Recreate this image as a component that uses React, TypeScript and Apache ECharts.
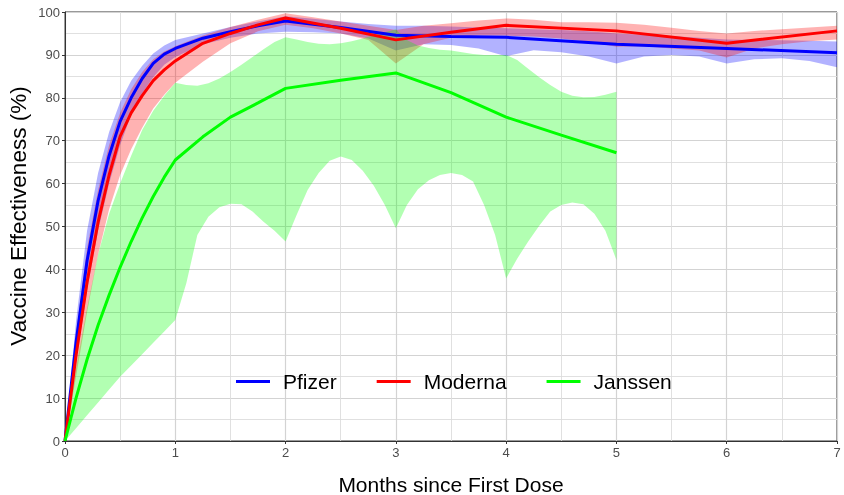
import React, { useEffect, useRef } from 'react';
import * as echarts from 'echarts';

// ---- Data (months since first dose, effectiveness %) ----
const LINE_X = [0, 0.1, 0.2, 0.3, 0.4, 0.5, 0.6, 0.7, 0.8, 0.9, 1, 1.25, 1.5, 1.75, 2, 2.5, 3, 3.5, 4, 5, 6, 7];
const PFIZER = [0, 23, 42, 56, 66.5, 74.5, 80, 84.5, 88, 90.2, 91.5, 93.9, 95.4, 96.8, 97.9, 96.4, 94.6, 94.3, 94.1, 92.5, 91.5, 90.5];
const MODERNA = [0, 20, 37, 51, 62, 71, 76.5, 80.5, 84, 86.5, 88.6, 92.7, 95, 97, 98.6, 96.2, 93.5, 95.3, 96.9, 95.6, 92.7, 95.6];

const JANSSEN_X = [0, 0.1, 0.2, 0.3, 0.4, 0.5, 0.6, 0.7, 0.8, 0.9, 1, 1.25, 1.5, 1.75, 2, 2.5, 3, 3.5, 4, 4.5, 5];
const JANSSEN = [0, 10, 19, 27, 34, 40.5, 46.5, 52, 57, 61.5, 65.5, 70.9, 75.5, 78.8, 82.2, 84.1, 85.8, 81.2, 75.5, 71.3, 67.2];

const BAND_X = [0, 0.1, 0.2, 0.3, 0.4, 0.5, 0.6, 0.7, 0.8, 0.9, 1, 1.25, 1.5, 1.75, 2, 2.25, 2.5, 2.75, 3, 3.25, 3.5, 3.75, 4, 4.25, 4.5, 4.75, 5, 5.25, 5.5, 5.75, 6, 6.25, 6.5, 6.75, 7];
const PFIZER_HI = [0, 28, 49, 62.5, 72, 79, 84, 87.5, 90.3, 92.2, 93.5, 95, 96.5, 97.8, 99, 98.4, 97.8, 97.2, 96.8, 96.8, 96.6, 96.4, 96.2, 96, 95.8, 95.5, 95, 94.7, 94.4, 94, 93.6, 93.5, 93.4, 93.3, 93.1];
const PFIZER_LO = [0, 18, 35, 49, 60, 69, 76, 81, 84.8, 87.7, 89.5, 92.5, 94, 95, 95.4, 95.3, 95, 93.8, 91, 92.5, 92.3, 91.5, 89.7, 91.1, 90.6, 89.6, 88, 89.6, 90, 89.6, 88, 89, 89.2, 88.6, 87.1];
const MODERNA_HI = [0, 25, 45, 58.5, 69, 76.5, 82, 86, 89, 90.8, 92, 94.5, 96.5, 98.2, 99.7, 98.8, 97.8, 96.8, 95.8, 96.8, 97.4, 98, 98.5, 98.2, 97.6, 97.6, 97.5, 97, 96.3, 95.6, 95, 95.6, 96, 96.4, 96.8];
const MODERNA_LO = [0, 15, 30, 43.5, 54, 62, 68, 73, 77.5, 80.7, 83.5, 88.4, 92.7, 95.5, 97, 96.2, 95, 93.5, 88, 92.5, 94, 94.5, 94.5, 94.3, 93.8, 93, 91.9, 92, 91.5, 91, 89.4, 91.5, 92.5, 93.2, 93.6];

const JANSSEN_BAND_X = [0, 0.1, 0.2, 0.3, 0.4, 0.5, 0.6, 0.7, 0.8, 0.9, 1, 1.1, 1.2, 1.3, 1.4, 1.5, 1.6, 1.7, 1.8, 1.9, 2, 2.1, 2.2, 2.3, 2.4, 2.5, 2.6, 2.7, 2.8, 2.9, 3, 3.1, 3.2, 3.3, 3.4, 3.5, 3.6, 3.7, 3.8, 3.9, 4, 4.1, 4.2, 4.3, 4.4, 4.5, 4.6, 4.7, 4.8, 4.9, 5];
const JANSSEN_HI = [0, 17, 31, 43.5, 53, 60, 66.5, 72.5, 77, 80.5, 83.5, 83, 82.8, 83.4, 84.5, 86, 87.7, 89.5, 91.3, 93, 94.1, 93.6, 93, 92.6, 92.5, 92.7, 93.2, 93.8, 94.6, 95.3, 96, 93.5, 92.2, 91.6, 91.2, 91, 90.6, 90.2, 90, 90, 90, 88.8, 86.8, 84.8, 83, 81.4, 80.5, 80.1, 80.2, 80.7, 81.4];
const JANSSEN_LO = [0, 3, 6, 9, 12, 15, 17.6, 20.2, 22.9, 25.5, 28.2, 36.8, 48, 52.3, 54.5, 55.3, 55.2, 53.5, 51.1, 49, 46.5, 52.7, 58.5, 62.5, 65.3, 66.3, 65.5, 63, 59.5, 55, 49.6, 55, 58.7, 60.8, 62, 62.5, 62, 60.5, 55, 48, 37.9, 42.5, 46.5, 50.2, 53.5, 55, 55.6, 55.2, 53, 49, 42.2];

const X_TICKS = [0, 1, 2, 3, 4, 5, 6, 7];
const Y_TICKS = [0, 10, 20, 30, 40, 50, 60, 70, 80, 90, 100];

const FONT = '"Liberation Sans", Arial, Helvetica, sans-serif';

function pairs(xs: number[], ys: number[]) {
  return xs.map((x, i) => [x, ys[i]]);
}

function band(name: string, xs: number[], lo: number[], hi: number[], fill: string) {
  return {
    type: 'custom',
    name,
    silent: true,
    z: 1,
    clip: true,
    data: [[xs[0], lo[0]]],
    renderItem: (_params: any, api: any) => {
      const pts: number[][] = [];
      for (let i = 0; i < xs.length; i++) pts.push(api.coord([xs[i], hi[i]]));
      for (let i = xs.length - 1; i >= 0; i--) pts.push(api.coord([xs[i], lo[i]]));
      return { type: 'polygon', shape: { points: pts }, style: { fill } };
    },
  };
}

function line(name: string, xs: number[], ys: number[], color: string) {
  return {
    type: 'line',
    name,
    z: 3,
    data: pairs(xs, ys),
    showSymbol: false,
    smooth: false,
    lineStyle: { color, width: 3 },
    itemStyle: { color },
  };
}

export default function App() {
  const ref = useRef<HTMLDivElement>(null);
  useEffect(() => {
    document.body.style.margin = '0';
    const chart = echarts.init(ref.current!, null, { renderer: 'svg' });
    chart.setOption({
      animation: false,
      textStyle: { fontFamily: FONT },
      grid: {
        left: 65,
        right: 7,
        top: 12,
        bottom: 54,
        containLabel: false,
        outerBoundsMode: 'none',
        show: true,
        borderColor: '#333',
        borderWidth: 1,
      },
      legend: {
        data: ['Pfizer', 'Moderna', 'Janssen'],
        left: 236,
        top: 371,
        padding: 0,
        icon: 'rect',
        itemWidth: 34,
        itemHeight: 3,
        itemGap: 40,
        textStyle: { fontSize: 21, color: '#000', fontFamily: FONT, padding: [0, 0, 0, 8] },
      },
      graphic: [
        {
          type: 'text',
          x: 18,
          y: 216,
          rotation: Math.PI / 2,
          style: {
            text: 'Vaccine Effectiveness (%)',
            fontSize: 22.5,
            fontFamily: FONT,
            fill: '#000',
            align: 'center',
            verticalAlign: 'middle',
          },
        },
      ],
      xAxis: {
        type: 'value',
        min: 0,
        max: 7,
        interval: 1,
        name: 'Months since First Dose',
        nameLocation: 'middle',
        nameGap: 33,
        nameTextStyle: { fontSize: 21, color: '#000', fontFamily: FONT },
        axisLine: { show: true, lineStyle: { color: '#333', width: 1 } },
        axisTick: { show: true, length: 3, lineStyle: { color: '#333' } },
        axisLabel: { fontSize: 13, color: '#4D4D4D', margin: 5, fontFamily: FONT, formatter: (v: number) => (X_TICKS.includes(v) ? String(v) : '') },
        splitLine: { show: true, lineStyle: { color: '#D3D3D3', width: 1.2 } },
        minorTick: { show: false, splitNumber: 2 },
        minorSplitLine: { show: true, lineStyle: { color: '#DCDCDC', width: 0.9 } },
      },
      yAxis: {
        type: 'value',
        min: 0,
        max: 100,
        interval: 10,
        axisLine: { show: true, lineStyle: { color: '#333', width: 1 } },
        axisTick: { show: true, length: 3, lineStyle: { color: '#333' } },
        axisLabel: { fontSize: 13, color: '#4D4D4D', margin: 5, fontFamily: FONT, formatter: (v: number) => (Y_TICKS.includes(v) ? String(v) : '') },
        splitLine: { show: true, lineStyle: { color: '#D3D3D3', width: 1.2 } },
        minorTick: { show: false, splitNumber: 2 },
        minorSplitLine: { show: true, lineStyle: { color: '#DCDCDC', width: 0.9 } },
      },
      series: [
        band('Pfizer CI', BAND_X, PFIZER_LO, PFIZER_HI, 'rgba(0,0,255,0.3)'),
        band('Moderna CI', BAND_X, MODERNA_LO, MODERNA_HI, 'rgba(255,0,0,0.3)'),
        band('Janssen CI', JANSSEN_BAND_X, JANSSEN_LO, JANSSEN_HI, 'rgba(0,255,0,0.3)'),
        line('Pfizer', LINE_X, PFIZER, '#0000FF'),
        line('Moderna', LINE_X, MODERNA, '#FF0000'),
        line('Janssen', JANSSEN_X, JANSSEN, '#00FF00'),
      ],
    });
    return () => chart.dispose();
  }, []);
  return <div ref={ref} style={{ position: 'fixed', left: 0, top: 0, width: 844, height: 495 }} />;
}
